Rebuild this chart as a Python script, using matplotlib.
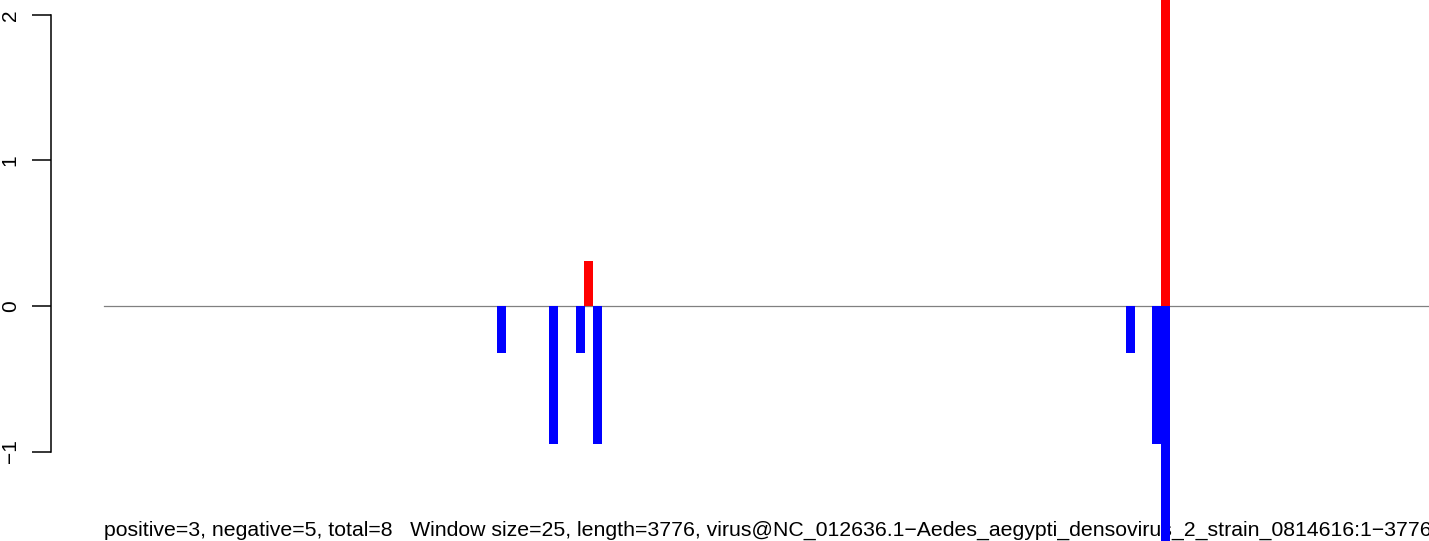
import matplotlib.pyplot as plt

plt.rcParams["font.family"] = ["Liberation Sans", "DejaVu Sans"]

# window left edges (nt), window size 25
win_size = 25
seq_len = 3776
neg_starts = [1120, 1268, 1345, 1394, 2913, 2987, 3013]
neg_values = [-0.32, -0.95, -0.32, -0.95, -0.32, -0.95, -2.0]
pos_starts = [1368, 3013]
pos_values = [0.31, 3.0]
yticks = [-1, 0, 1, 2]
ytick_labels = ["\u22121", "0", "1", "2"]
caption = ("positive=3, negative=5, total=8   Window size=25, length=3776, "
           "virus@NC_012636.1\u2212Aedes_aegypti_densovirus_2_strain_0814616:1\u22123776")

fig = plt.figure(figsize=(14.29, 5.41), dpi=100)
ax = fig.add_axes([51 / 1429, 0, 1 - 51 / 1429, 1])

ax.plot([0, seq_len], [0, 0], color="#808080", lw=0.9, zorder=1)
ax.bar(neg_starts, neg_values, width=win_size, align="edge", color="blue", zorder=3)
ax.bar(pos_starts, pos_values, width=win_size, align="edge", color="red", zorder=3)

ax.set_xlim(-151, 3777)
ax.set_ylim(-1.615, 2.103)

for s in ["top", "right", "bottom"]:
    ax.spines[s].set_visible(False)
ax.spines["left"].set_bounds(-1, 2)
ax.spines["left"].set_linewidth(1.1)
ax.set_xticks([])
ax.set_yticks(yticks)
ax.set_yticklabels(ytick_labels, rotation=90, va="center", fontsize=15)
ax.tick_params(axis="y", length=14, width=1.1, pad=8.5)
ax.patch.set_alpha(0)

ax.text(0, -1.58, caption, fontsize=15.3, ha="left", va="baseline", zorder=2)

fig.savefig("out.png", dpi=100)
